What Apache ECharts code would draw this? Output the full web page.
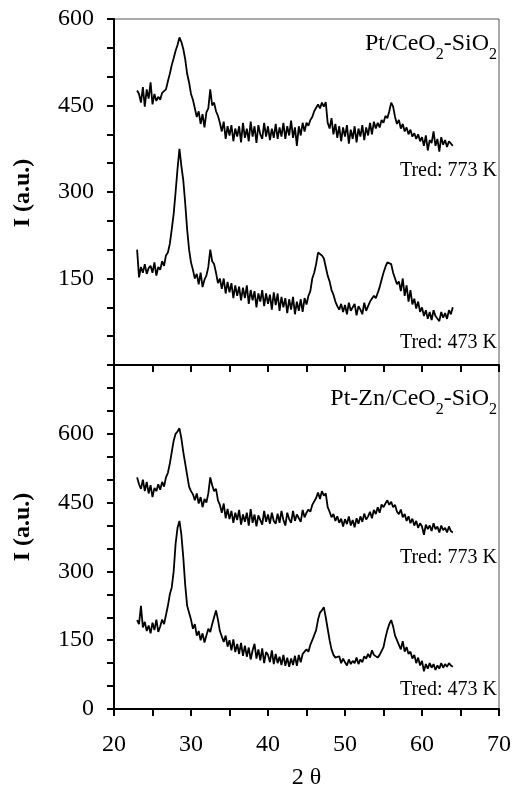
<!DOCTYPE html>
<html>
<head>
<meta charset="utf-8">
<script src="https://cdn.jsdelivr.net/npm/echarts@6/dist/echarts.min.js"></script>
<style>
  html, body { margin: 0; padding: 0; background: #fff; }
  #chart { width: 516px; height: 796px; }
</style>
</head>
<body>
<div id="chart"></div>
<script>
// XRD scans, 2θ from 23° to 64° every 0.25° (one row per degree)
const twoThetaStart = 23;
const twoThetaStep = 0.25;

// Pt/CeO2-SiO2, Tred 773 K
const ptTred773 = [
  476, 470, 455, 482,
  448, 478, 462, 490,
  452, 470, 458, 465,
  460, 472, 470, 478,
  492, 505, 520, 532,
  545, 555, 568, 560,
  548, 530, 505, 490,
  470, 460, 445, 430,
  440, 418, 435, 412,
  438, 445, 478, 450,
  455, 440, 432, 420,
  405, 422, 392, 414,
  398, 416, 388, 410,
  396, 414, 386, 420,
  394, 410, 388, 422,
  396, 414, 385, 416,
  400, 392, 420, 396,
  414, 390, 410, 394,
  418, 392, 412, 396,
  420, 392, 414, 398,
  424, 394, 412, 380,
  414, 398, 420, 405,
  420, 415, 425, 430,
  440, 438, 452, 445,
  455, 448, 456, 420,
  410, 428, 400, 418,
  394, 414, 388, 412,
  396, 416, 384, 408,
  392, 414, 386, 410,
  396, 416, 390, 412,
  398, 420, 400, 422,
  410, 420, 412, 425,
  420, 432, 428, 440,
  455, 448, 430, 418,
  425, 410, 418, 405,
  412, 400, 408, 396,
  402, 392, 400, 388,
  395, 380, 398, 372,
  390, 385, 405, 380,
  392, 370, 395, 382,
  390, 378, 388, 385,
  380
];

// Pt/CeO2-SiO2, Tred 473 K
const ptTred473 = [
  200, 152, 170, 160,
  175, 158, 168, 172,
  160, 178, 155, 170,
  165, 180, 172, 190,
  195, 210, 235, 262,
  300, 340, 375, 345,
  320, 280, 235, 200,
  178, 165, 150, 158,
  140, 160, 135, 148,
  155, 170, 200, 180,
  175, 160, 142, 150,
  132, 150, 124, 144,
  126, 142, 116, 138,
  120, 136, 112, 134,
  116, 138, 106, 130,
  112, 128, 100, 124,
  110, 130, 102, 124,
  106, 122, 96, 126,
  104, 124, 94, 118,
  100, 116, 90, 114,
  96, 118, 88, 110,
  94, 114, 92, 116,
  105, 120, 128, 150,
  160, 175, 195, 198,
  190, 185, 170, 155,
  145, 130, 122, 110,
  102, 96, 106, 92,
  104, 88, 108, 94,
  92, 106, 86, 102,
  96, 88, 108, 94,
  102, 110, 108, 120,
  116, 125, 135, 148,
  160, 170, 178, 181,
  175, 160, 150, 140,
  145, 128, 150, 120,
  138, 110, 130, 105,
  115, 98, 110, 92,
  100, 85, 95, 80,
  92, 78, 95, 85,
  88, 76, 92, 82,
  90, 80, 95, 88,
  100
];

// Pt-Zn/CeO2-SiO2, Tred 773 K
const ptZnTred773 = [
  505, 490, 480, 500,
  475, 495, 470, 488,
  462, 482, 475, 490,
  478, 495, 485, 505,
  515, 535, 560, 585,
  600, 605, 612, 590,
  560, 535, 510, 485,
  475, 468, 455, 470,
  448, 462, 440, 458,
  450, 470, 505, 488,
  475, 480, 455, 445,
  428, 448, 416, 436,
  414, 432, 406, 428,
  412, 434, 402, 424,
  408, 428, 400, 436,
  406, 424, 398, 422,
  412, 402, 432, 408,
  424, 404, 428, 410,
  404, 426, 406, 432,
  412, 400, 428, 414,
  406, 432, 410, 424,
  428, 408, 434, 418,
  428, 435, 430, 445,
  448, 460, 472, 458,
  475, 465, 470, 440,
  430, 418, 425, 410,
  420, 406, 415, 398,
  414, 403, 420, 400,
  412, 396, 416, 404,
  420, 408, 426, 413,
  420, 430, 416, 434,
  425, 440, 428, 446,
  440, 448, 455, 445,
  452, 440, 445, 430,
  425, 435, 418, 425,
  410, 420, 405, 415,
  400, 410, 395, 405,
  398, 380, 402, 392,
  400, 388, 405, 392,
  398, 385, 400, 390,
  395, 385, 398, 388,
  385
];

// Pt-Zn/CeO2-SiO2, Tred 473 K
const ptZnTred473 = [
  194, 185, 225, 178,
  190, 170, 182, 165,
  188, 172, 195, 168,
  180, 195, 185, 205,
  225, 250, 265, 300,
  360, 395, 410, 380,
  330, 270, 225, 210,
  195, 175, 185, 160,
  170, 150, 165, 145,
  160, 175, 168, 185,
  200, 215, 195, 170,
  158, 146, 160, 136,
  150, 128, 152, 124,
  142, 120, 144, 116,
  138, 114, 134, 108,
  128, 142, 110, 130,
  106, 132, 100, 124,
  118, 102, 128, 98,
  120, 100, 114, 96,
  118, 94, 112, 92,
  110, 96, 116, 94,
  118, 102, 120, 125,
  130, 125, 140, 150,
  150, 172, 195, 210,
  215, 222, 200, 175,
  150, 130, 118, 112,
  108, 115, 100, 110,
  102, 95, 108, 98,
  105, 100, 112, 98,
  108, 102, 115, 110,
  120, 112, 128, 118,
  120, 112, 118, 122,
  135, 155, 172, 185,
  194, 180, 160, 150,
  140, 130, 148, 125,
  135, 120, 125, 110,
  118, 100, 112, 95,
  105, 82, 98, 88,
  100, 90, 98, 85,
  95, 88, 100, 90,
  98, 92, 100, 95,
  92
];

const xTickLabels = [20, 30, 40, 50, 60, 70];
const yTickLabelsTop = [150, 300, 450, 600];
const yTickLabelsBottom = [0, 150, 300, 450, 600];

const serif = '"Liberation Serif", "Times New Roman", serif';

function toPoints(list) {
  return list.map((v, i) => [twoThetaStart + i * twoThetaStep, v]);
}

function xAxisCfg(gridIndex, showLabels) {
  return {
    type: "value",
    gridIndex: gridIndex,
    min: 20,
    max: 70,
    interval: 5,
    axisLine: { show: true, lineStyle: { color: "#000", width: 2 } },
    axisTick: { show: true, inside: false, length: 7, lineStyle: { color: "#000", width: 2 } },
    splitLine: { show: false },
    axisLabel: {
      show: showLabels,
      margin: 24,
      color: "#000",
      fontSize: 24,
      fontFamily: serif,
      formatter: (v) => (xTickLabels.includes(v) ? String(v) : ""),
    },
    name: showLabels ? "2 θ" : "",
    nameLocation: "middle",
    nameGap: 57,
    nameTextStyle: { color: "#000", fontSize: 24, fontFamily: serif },
  };
}

function yAxisCfg(gridIndex, max, labels) {
  return {
    type: "value",
    gridIndex: gridIndex,
    min: 0,
    max: max,
    interval: 50,
    axisLine: { show: true, lineStyle: { color: "#000", width: 2 } },
    axisTick: { show: true, inside: false, length: 7, lineStyle: { color: "#000", width: 2 } },
    splitLine: { show: false },
    axisLabel: {
      margin: 20,
      color: "#000",
      fontSize: 24,
      fontFamily: serif,
      formatter: (v) => (labels.includes(v) ? String(v) : ""),
    },
  };
}

function traceSeries(list, idx) {
  return {
    type: "line",
    xAxisIndex: idx,
    yAxisIndex: idx,
    data: toPoints(list),
    showSymbol: false,
    lineStyle: { color: "#000", width: 1.8 },
    silent: true,
  };
}

const subRich = {
  n: { fontSize: 24, fontFamily: serif, fontWeight: "normal", color: "#000", lineHeight: 28, verticalAlign: "top" },
  s: { fontSize: 16, fontFamily: serif, fontWeight: "normal", color: "#000", lineHeight: 18, verticalAlign: "top", padding: [15, 0, 0, 0] },
};
const tredStyle = { fontSize: 20, fontFamily: serif, color: "#000", fontWeight: "normal" };

const myChart = echarts.init(document.getElementById("chart"));
myChart.setOption({
  animation: false,
  backgroundColor: "#fff",
  grid: [
    { left: 114, right: 17, top: 19, height: 346, show: true, borderColor: "#555", borderWidth: 1 },
    { left: 114, right: 17, top: 365, height: 344, show: true, borderColor: "#555", borderWidth: 1 },
  ],
  xAxis: [xAxisCfg(0, false), xAxisCfg(1, true)],
  yAxis: [yAxisCfg(0, 600, yTickLabelsTop), yAxisCfg(1, 750, yTickLabelsBottom)],
  title: [
    { text: "{n|Pt/CeO}{s|2}{n|-SiO}{s|2}", right: 19, top: 32, padding: 0, textStyle: { fontWeight: "normal", rich: subRich } },
    { text: "{n|Pt-Zn/CeO}{s|2}{n|-SiO}{s|2}", right: 19, top: 387, padding: 0, textStyle: { fontWeight: "normal", rich: subRich } },
    { text: "Tred: 773 K", right: 19, top: 161, padding: 0, textStyle: tredStyle },
    { text: "Tred: 473 K", right: 19, top: 333, padding: 0, textStyle: tredStyle },
    { text: "Tred: 773 K", right: 19, top: 548, padding: 0, textStyle: tredStyle },
    { text: "Tred: 473 K", right: 19, top: 680, padding: 0, textStyle: tredStyle },
  ],
  graphic: [
    {
      type: "text", x: 23, y: 193, rotation: Math.PI / 2,
      style: { text: "I (a.u.)", fill: "#000", font: "bold 24px " + serif, align: "center", verticalAlign: "middle" },
    },
    {
      type: "text", x: 23, y: 527, rotation: Math.PI / 2,
      style: { text: "I (a.u.)", fill: "#000", font: "bold 24px " + serif, align: "center", verticalAlign: "middle" },
    },
  ],
  series: [
    traceSeries(ptTred773, 0),
    traceSeries(ptTred473, 0),
    traceSeries(ptZnTred773, 1),
    traceSeries(ptZnTred473, 1),
  ],
});
</script>
</body>
</html>
